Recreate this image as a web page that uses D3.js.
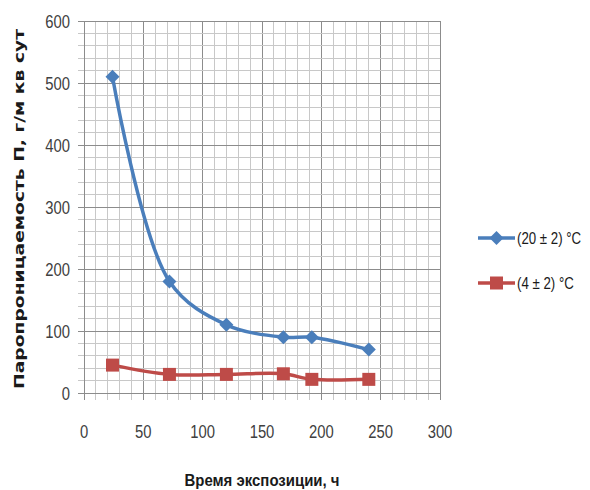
<!DOCTYPE html>
<html><head><meta charset="utf-8">
<script src="https://cdn.jsdelivr.net/npm/d3@7"></script>
<style>body{margin:0;background:#fff}</style>
</head><body>
<svg id="c" width="590" height="490"></svg>
<script>
const xTicks = [0, 50, 100, 150, 200, 250, 300];
const yTicks = [0, 100, 200, 300, 400, 500, 600];
const seriesNames = ["(20 ± 2) °C", "(4 ± 2) °C"];
const hours = [24, 72, 120, 168, 192, 240];
const warm = [510, 180, 110, 90, 90, 70];
const cold = [45, 30, 30, 31, 22, 22];
const colors = ["#4a7ebb", "#be4b48"];

const svg = d3.select("#c");
const L = 84, R = 440, T = 21, B = 393;
const x = d3.scaleLinear().domain([0, 300]).range([L, R]);
const y = d3.scaleLinear().domain([0, 600]).range([B, T]);
const sans = "'Liberation Sans',Arial,sans-serif";

const g = svg.append("g");
d3.range(0, 301, 10).forEach(v => {
  g.append("line").attr("x1", x(v)).attr("x2", x(v)).attr("y1", T).attr("y2", B + 7)
    .attr("stroke", v % 50 === 0 ? "#8c8c8c" : "#c8c8c8").attr("stroke-width", 1).attr("shape-rendering", "crispEdges");
});
d3.range(0, 601, 20).forEach(v => {
  g.append("line").attr("x1", L - 6).attr("x2", R).attr("y1", y(v)).attr("y2", y(v))
    .attr("stroke", v % 100 === 0 ? "#8c8c8c" : "#c8c8c8").attr("stroke-width", 1).attr("shape-rendering", "crispEdges");
});
g.append("line").attr("x1", L).attr("x2", L).attr("y1", T).attr("y2", B + 7).attr("stroke", "#8c8c8c").attr("shape-rendering", "crispEdges");
g.append("line").attr("x1", L - 6).attr("x2", R).attr("y1", B).attr("y2", B).attr("stroke", "#8c8c8c").attr("shape-rendering", "crispEdges");

svg.append("g").selectAll("text").data(xTicks).join("text")
  .attr("transform", d => `translate(${x(d)},438) scale(0.78,1)`).attr("text-anchor", "middle")
  .attr("font-family", sans).attr("font-size", 19).attr("fill", "#404040").text(d => d);
svg.append("g").selectAll("text").data(yTicks).join("text")
  .attr("transform", d => `translate(70,${y(d) + 7}) scale(0.78,1)`).attr("text-anchor", "end")
  .attr("font-family", sans).attr("font-size", 19).attr("fill", "#404040").text(d => d);

svg.append("text").attr("transform", "translate(24,209) rotate(-90)")
  .attr("text-anchor", "middle").attr("font-family", "'DejaVu Sans',sans-serif")
  .attr("font-weight", "bold").attr("font-size", 14.5).attr("fill", "#1a1a1a")
  .attr("textLength", 360).attr("lengthAdjust", "spacingAndGlyphs")
  .text("Паропроницаемость П, г/м кв сут");
svg.append("text").attr("x", 262).attr("y", 486).attr("text-anchor", "middle")
  .attr("font-family", sans).attr("font-weight", "bold").attr("font-size", 17).attr("fill", "#1a1a1a")
  .attr("textLength", 155).attr("lengthAdjust", "spacingAndGlyphs")
  .text("Время экспозиции, ч");

const line = d3.line().x(d => x(d[0])).y(d => y(d[1])).curve(d3.curveCatmullRom.alpha(0.5));
const sets = [warm, cold];
const diamond = s => `M0,${-s}L${s},0L0,${s}L${-s},0Z`;
sets.forEach((vals, i) => {
  const pts = hours.map((h, j) => [h, vals[j]]);
  svg.append("path").attr("d", line(pts)).attr("fill", "none")
    .attr("stroke", colors[i]).attr("stroke-width", 3.5).attr("stroke-linejoin", "round");
  svg.append("g").selectAll("path").data(pts).join("path")
    .attr("transform", d => `translate(${x(d[0])},${y(d[1])})`)
    .attr("d", i === 0 ? diamond(7) : "M-6.5,-6.5H6.5V6.5H-6.5Z")
    .attr("fill", colors[i]);
});

const legY = [238, 283];
seriesNames.forEach((n, i) => {
  const lg = svg.append("g");
  lg.append("line").attr("x1", 478).attr("x2", 515).attr("y1", legY[i]).attr("y2", legY[i])
    .attr("stroke", colors[i]).attr("stroke-width", 3.5);
  lg.append("path").attr("transform", `translate(496.5,${legY[i]})`)
    .attr("d", i === 0 ? diamond(7) : "M-6.5,-6.5H6.5V6.5H-6.5Z").attr("fill", colors[i]);
  lg.append("text").attr("transform", `translate(517,${legY[i] + 6}) scale(0.78,1)`)
    .attr("font-family", sans).attr("font-size", 17).attr("fill", "#1a1a1a").text(n);
});
</script>
</body></html>
